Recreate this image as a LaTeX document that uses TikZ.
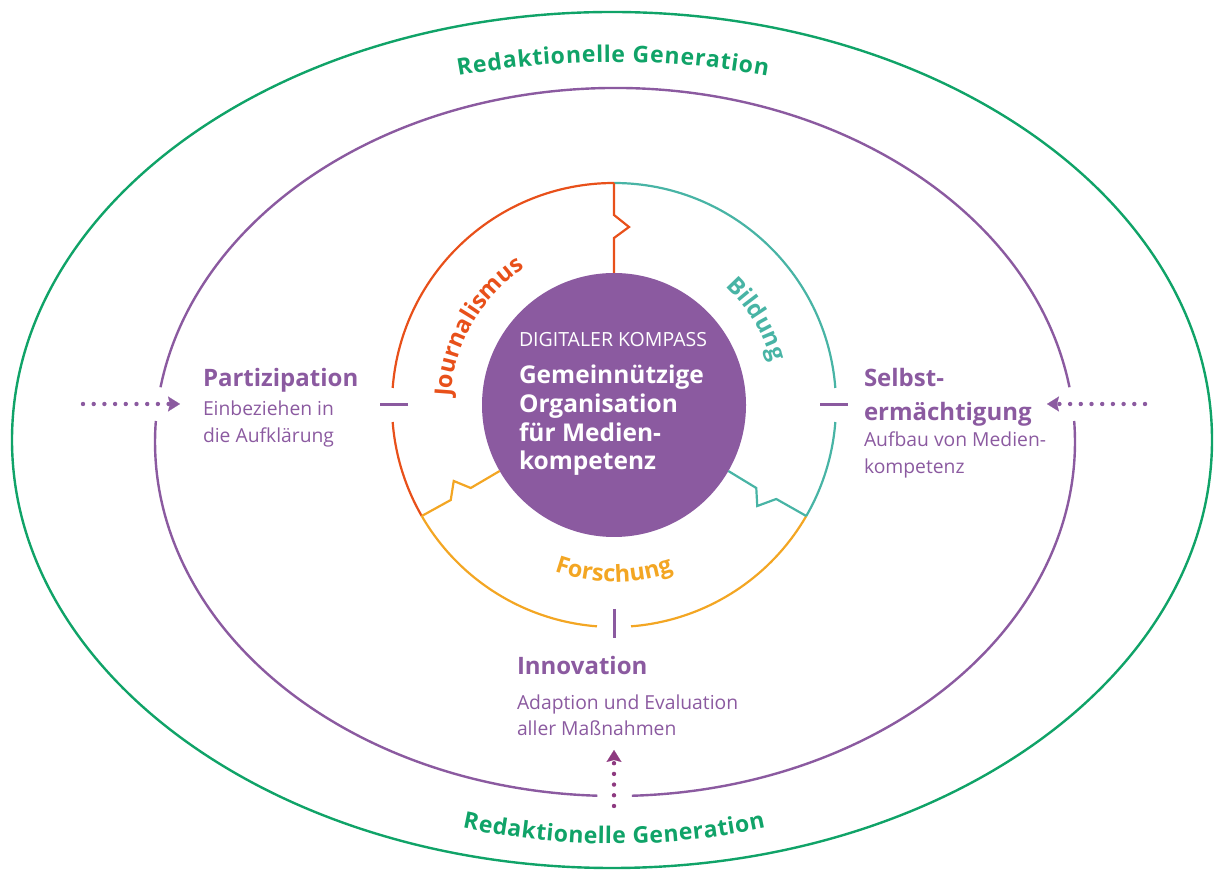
\documentclass[tikz,border=0pt]{standalone}
\usepackage{fontspec}
\setmainfont{Open Sans}
\usetikzlibrary{arrows.meta,positioning,calc,decorations.text}

\definecolor{kpurple}{RGB}{139,90,160}
\definecolor{kplum}{RGB}{142,58,128}
\definecolor{korange}{RGB}{232,80,26}
\definecolor{kteal}{RGB}{72,180,165}
\definecolor{kyellow}{RGB}{243,166,35}
\definecolor{kgreen}{RGB}{16,163,104}

\newcommand\headfont{\fontsize{24}{34.3}\selectfont\bfseries}
\newcommand\subfont{\fontsize{19.3}{27.6}\selectfont}
\newcommand\ringfont{\fontsize{23.5}{23.5}\selectfont\bfseries}
\newcommand\genfont{\fontsize{23}{23}\selectfont\bfseries}

\begin{document}
\begin{tikzpicture}[x=1pt,y=1pt,
    ring/.style={line width=2.2pt},
    ellip/.style={line width=2.4pt},
    tick/.style={kpurple,line width=3pt},
    jag/.style={line width=2.2pt,line join=miter},
    head/.style={kpurple,font=\headfont,anchor=base west,align=left},
    sub/.style={kpurple,font=\subfont,anchor=base west,align=left},
    dots/.style={line width=4.4pt,line cap=round,dash pattern=on 0pt off 10.7pt,
        -{Stealth[length=12pt,width=15pt,inset=2pt,line width=0.1pt]}}]
    \tikzstyle{every node}=[inner sep=0pt,outer sep=0pt]
    \useasboundingbox (0,0) rectangle (1217,872);

    \coordinate (C) at (614,467);
    \coordinate (G) at (612,432);
    \coordinate (P) at (615,430);
    \coordinate (T) at (613,-55);
    \coordinate (B) at (614,748);

    \draw[ellip,kgreen] (G) ellipse [x radius=600,y radius=428];
    \draw[ellip,kpurple] (P) ++(8.9:460 and 354) arc[start angle=8.9,end angle=171.1,x radius=460,y radius=354];
    \draw[ellip,kpurple] (P) ++(176.6:460 and 354) arc[start angle=176.6,end angle=267.8,x radius=460,y radius=354];
    \draw[ellip,kpurple] (P) ++(272.1:460 and 354) arc[start angle=272.1,end angle=363.4,x radius=460,y radius=354];

    \draw[ring,korange] (C) ++(90:222) arc[start angle=90,end angle=175.6,radius=222];
    \draw[ring,korange] (C) ++(184.4:222) arc[start angle=184.4,end angle=210,radius=222];
    \draw[ring,kyellow] (C) ++(210:222) arc[start angle=210,end angle=265.6,radius=222];
    \draw[ring,kyellow] (C) ++(274.4:222) arc[start angle=274.4,end angle=330,radius=222];
    \draw[ring,kteal] (C) ++(330:222) arc[start angle=330,end angle=355.6,radius=222];
    \draw[ring,kteal] (C) ++(4.4:222) arc[start angle=4.4,end angle=90,radius=222];

    \draw[tick] ($(C)+(180:206)$) -- ($(C)+(180:234)$);
    \draw[tick] ($(C)+(0:206)$) -- ($(C)+(0:234)$);
    \draw[tick] ($(C)+(270:204)$) -- ($(C)+(270:233)$);

    \node[circle,fill=kpurple,minimum size=264pt] (core) at (C) {};

    \coordinate (rtop) at ($(C)+(90:222)$);
    \coordinate (rleft) at ($(C)+(210:222)$);
    \coordinate (rright) at ($(C)+(330:222)$);
    \draw[jag,korange] (rtop) -- ++(0,-32) -- ++(15,-12) -- ++(-15,-11) -- (core.90);
    \draw[jag,kyellow] (rleft) -- ++(29,16) -- ++(3,19) -- ++(17,-7) -- (core.210);
    \draw[jag,kteal] (rright) -- ++(-30,17) -- ++(-19,-7) -- ++(-1,18) -- (core.330);

    \path[decorate,decoration={text along path,text={|\ringfont|Journalismus},text align=center,text color=korange}]
        (C) ++(200:163) arc[start angle=200,end angle=100,radius=163];
    \path[decorate,decoration={text along path,text={|\ringfont|Bildung},text align=center,text color=kteal}]
        (C) ++(61:163) arc[start angle=61,end angle=1,radius=163];
    \path[decorate,decoration={text along path,text={|\ringfont|Forschung},text align=center,text color=kyellow}]
        (C) ++(230:177) arc[start angle=230,end angle=310,radius=177];

    \path[decorate,decoration={text effects along path,text={Redaktionelle Generation},
        text effects/.cd,fit text to path,characters={text along path,text=kgreen,font=\genfont}}]
        (T) ++(100.3:865) arc[start angle=100.3,end angle=79.7,radius=865];
    \path[decorate,decoration={text effects along path,text={Redaktionelle Generation},
        text effects/.cd,fit text to path,characters={text along path,text=kgreen,font=\genfont}}]
        (B) ++(257.85:720) arc[start angle=257.85,end angle=282.15,radius=720];

    \node[sub,white,font=\fontsize{19.5}{19.5}\selectfont] (kompass) at (519,525) {DIGITALER KOMPASS};
    \node[head,white,font=\fontsize{24.5}{28.7}\selectfont\bfseries] (mission) at (519,402)
        {Gemeinnützige\\Organisation\\für Medien-\\kompetenz};

    \node[head] (partiz) at (203,485) {Partizipation};
    \node[sub] (partizsub) at ([yshift=-56]partiz.base west) {Einbeziehen in\\die Aufklärung};

    \node[head] (selbst) at (864,451) {Selbst-\\ermächtigung};
    \node[sub] (selbstsub) at ([yshift=-53]selbst.base west) {Aufbau von Medien-\\kompetenz};

    \node[head] (innov) at (517,197) {Innovation};
    \node[sub,font=\fontsize{19.3}{25.5}\selectfont] (innovsub) at ([yshift=-60.5]innov.base west)
        {Adaption und Evaluation\\aller Maßnahmen};

    \coordinate (wfrom) at (83,468);
    \coordinate (wto) at (180,468);
    \coordinate (efrom) at (1145,468);
    \coordinate (eto) at (1047,468);
    \coordinate (sfrom) at (614,66);
    \coordinate (sto) at (614,122);
    \draw[dots,kpurple] (wfrom) -- (wto);
    \draw[dots,kpurple] (efrom) -- (eto);
    \draw[dots,kplum] (sfrom) -- (sto);
\end{tikzpicture}
\end{document}
